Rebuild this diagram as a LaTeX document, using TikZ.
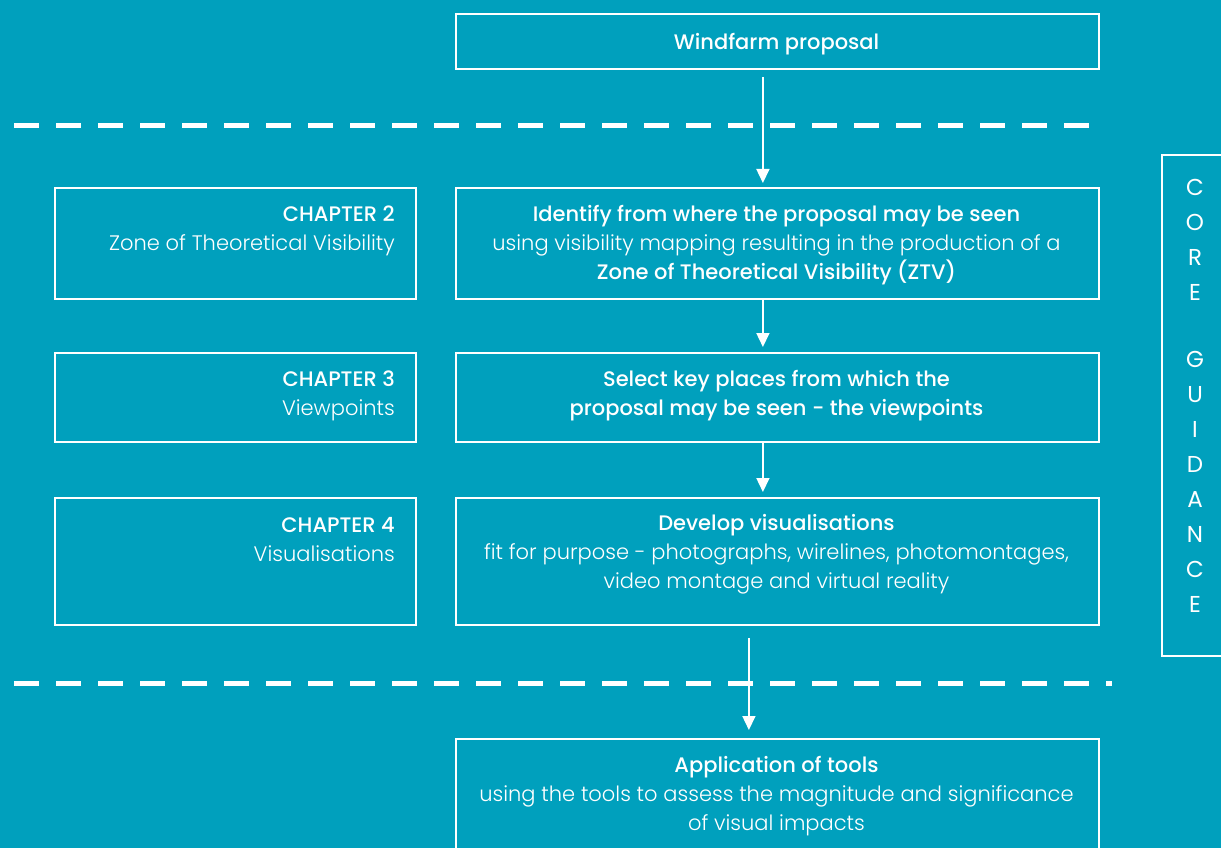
\documentclass[tikz,border=0pt]{standalone}
\usepackage{fontspec}
\setmainfont{Poppins}[BoldFont={Poppins Medium}]
\newfontface\lightface{Poppins Light}
\usetikzlibrary{arrows.meta}
\definecolor{bg}{RGB}{0,160,189}
\begin{document}
\begin{tikzpicture}[x=1pt,y=-1pt,
  mbox/.style={draw=white, line width=1.8pt, minimum width=643pt, anchor=north west, inner sep=0pt},
  lbox/.style={draw=white, line width=1.8pt, minimum width=361pt, anchor=north west, inner sep=0pt},
  txt/.style={text=white, align=center, inner sep=0pt, font=\fontsize{21}{29}\selectfont},
  rtxt/.style={text=white, align=right, inner sep=0pt, anchor=east, font=\fontsize{21}{29}\selectfont},
  arr/.style={draw=white, line width=1.6pt, -{Triangle[width=13pt,length=14pt]}},
  sepline/.style={draw=white, line width=5pt, dash pattern=on 25pt off 17pt}]
\useasboundingbox (0,0) rectangle (1221,848);
\clip (0,0) rectangle (1221,848);
\fill[bg] (0,0) rectangle (1221,848);
% separators
\draw[sepline] (14,126) -- (1093,126);
\draw[sepline] (14,683) -- (1112,683);
% main boxes
\node[mbox, minimum height=55pt] (b1) at (455,13) {};
\node[mbox, minimum height=111pt] (b2) at (455,187) {};
\node[mbox, minimum height=89pt] (b3) at (455,352) {};
\node[mbox, minimum height=127pt] (b4) at (455,497) {};
\node[mbox, minimum height=130pt] (b5) at (455,738) {};
% chapter boxes
\node[lbox, minimum height=111pt] (c2) at (54,187) {};
\node[lbox, minimum height=89pt] (c3) at (54,352) {};
\node[lbox, minimum height=127pt] (c4) at (54,497) {};
% core guidance box
\node[draw=white, line width=1.8pt, anchor=north west, inner sep=0pt, minimum width=80pt, minimum height=501pt] (cg) at (1161,154) {};
% texts
\node[txt] (t1) at (776.5,44) {\bfseries Windfarm proposal};
\node[txt] (t2) at (776.5,245) {\bfseries Identify from where the proposal may be seen\\
  {\lightface using visibility mapping resulting in the production of a}\\
  \bfseries Zone of Theoretical Visibility (ZTV)};
\node[txt] (t3) at (776.5,395.5) {\bfseries Select key places from which the\\
  \bfseries proposal may be seen - the viewpoints};
\node[txt] (t4) at (776.5,554) {\bfseries Develop visualisations\\
  {\lightface fit for purpose - photographs, wirelines, photomontages,}\\
  {\lightface video montage and virtual reality}};
\node[txt] (t5) at (776.5,796) {\bfseries Application of tools\\
  {\lightface using the tools to assess the magnitude and significance}\\
  {\lightface of visual impacts}};
\node[rtxt] (l2) at (395,230.5) {\bfseries CHAPTER 2\\ {\lightface Zone of Theoretical Visibility}};
\node[rtxt] (l3) at (395,395.5) {\bfseries CHAPTER 3\\ {\lightface Viewpoints}};
\node[rtxt] (l4) at (395,539.5) {\bfseries CHAPTER 4\\ {\lightface Visualisations}};
\node[text=white, align=center, inner sep=0pt, font=\fontsize{23}{35}\selectfont] (cgt) at (1195,396)
  {C\\O\\R\\E\\[32pt]G\\U\\I\\D\\A\\N\\C\\E};
% arrows
\draw[arr, shorten <=7pt, shorten >=4pt] ([xshift=-14.5pt]b1.south) -- ([xshift=-14.5pt]b2.north);
\draw[arr, shorten >=5pt] ([xshift=-14.5pt]b2.south) -- ([xshift=-14.5pt]b3.north);
\draw[arr, shorten >=5pt] ([xshift=-14.5pt]b3.south) -- ([xshift=-14.5pt]b4.north);
\draw[arr, shorten <=12pt, shorten >=8pt] ([xshift=-28.5pt]b4.south) -- ([xshift=-28.5pt]b5.north);
\end{tikzpicture}
\end{document}
